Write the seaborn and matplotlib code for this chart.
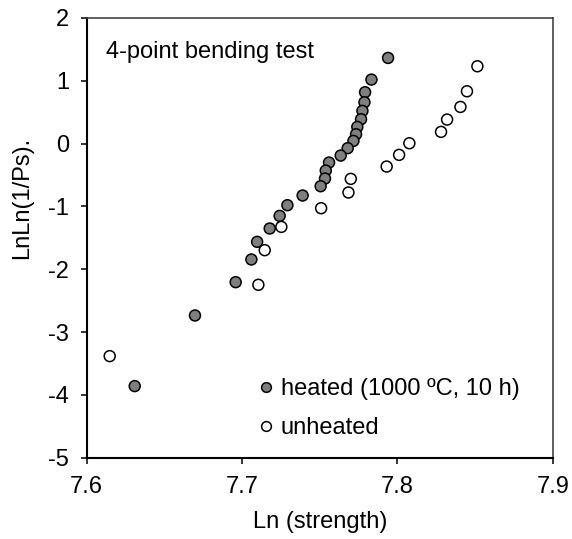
import matplotlib
matplotlib.use("Agg")
import matplotlib.pyplot as plt
import seaborn as sns
import pandas as pd

# Weibull plot data
heated_x = [7.794, 7.7833, 7.7792, 7.7788, 7.7775, 7.7766, 7.7742, 7.7734,
            7.7717, 7.768, 7.7635, 7.756, 7.7539, 7.7534, 7.7506, 7.739,
            7.7292, 7.7242, 7.7178, 7.7097, 7.706, 7.6959, 7.6697, 7.6309]
heated_y = [1.363, 1.018, 0.817, 0.657, 0.520, 0.387, 0.265, 0.148,
            0.042, -0.074, -0.191, -0.302, -0.430, -0.557, -0.679, -0.827,
            -0.981, -1.151, -1.352, -1.564, -1.845, -2.206, -2.736, -3.860]

unheated_x = [7.8515, 7.8448, 7.8406, 7.832, 7.8281, 7.8077, 7.8011, 7.7931,
              7.770, 7.7685, 7.7509, 7.7253, 7.7146, 7.7105, 7.6148]
unheated_y = [1.230, 0.832, 0.583, 0.382, 0.186, 0.005, -0.180, -0.366,
              -0.562, -0.779, -1.029, -1.326, -1.697, -2.248, -3.383]

labels = ["heated (1000 ºC, 10 h)", "unheated"]

df = pd.concat([
    pd.DataFrame({"x": heated_x, "y": heated_y, "group": labels[0]}),
    pd.DataFrame({"x": unheated_x, "y": unheated_y, "group": labels[1]}),
])

sns.set_style("white")
plt.rcParams["font.family"] = ["Liberation Sans", "DejaVu Sans"]
plt.rcParams["text.color"] = "black"
plt.rcParams["axes.labelcolor"] = "black"
plt.rcParams["xtick.color"] = "black"
plt.rcParams["ytick.color"] = "black"

fig = plt.figure(figsize=(5.72, 5.39), dpi=100)
ax = fig.add_axes([0.1516, 0.1508, 0.8147, 0.8160])

sns.scatterplot(data=df, x="x", y="y", hue="group",
                palette={labels[0]: "#7f7f7f", labels[1]: "white"},
                s=62, edgecolor="black", linewidth=1.1, ax=ax, zorder=3,
                legend=False)

ax.set_xlim(7.6, 7.9)
ax.set_ylim(-5, 2)
ax.set_xticks([7.6, 7.7, 7.8, 7.9])
ax.set_yticks(range(-5, 3))
ax.set_xticklabels(["7.6", "7.7", "7.8", "7.9"])
ax.set_yticklabels([str(v) for v in range(-5, 3)])

ax.tick_params(axis="both", direction="out", length=4.5, width=1.1,
               labelsize=17, color="black", labelcolor="black", pad=9,
               bottom=True, left=True)
ax.tick_params(axis="y", pad=8)

for side in ["left", "bottom"]:
    ax.spines[side].set_color("black")
    ax.spines[side].set_linewidth(1.5)
for side in ["top", "right"]:
    ax.spines[side].set_color("#444444")
    ax.spines[side].set_linewidth(1.2)

ax.set_xlabel("Ln (strength)", fontsize=17, labelpad=9, color="black")
ax.set_ylabel("LnLn(1/Ps).", fontsize=17, color="black")
ax.yaxis.set_label_coords(-0.115, 0.59)

ax.text(0.041, 0.923, "4-point bending test", transform=ax.transAxes,
        fontsize=17, va="center", ha="left", color="black")

handles = [
    plt.Line2D([], [], marker="o", linestyle="", markersize=7,
               markerfacecolor="#7f7f7f", markeredgecolor="black",
               markeredgewidth=1.1),
    plt.Line2D([], [], marker="o", linestyle="", markersize=7,
               markerfacecolor="white", markeredgecolor="black",
               markeredgewidth=1.1),
]
ax.legend(handles, labels, loc="lower left", bbox_to_anchor=(0.34, 0.02),
          frameon=False, fontsize=17, handletextpad=0.1, labelspacing=0.75,
          borderaxespad=0, handlelength=1.0, labelcolor="black")

fig.savefig("out.png", dpi=100)
